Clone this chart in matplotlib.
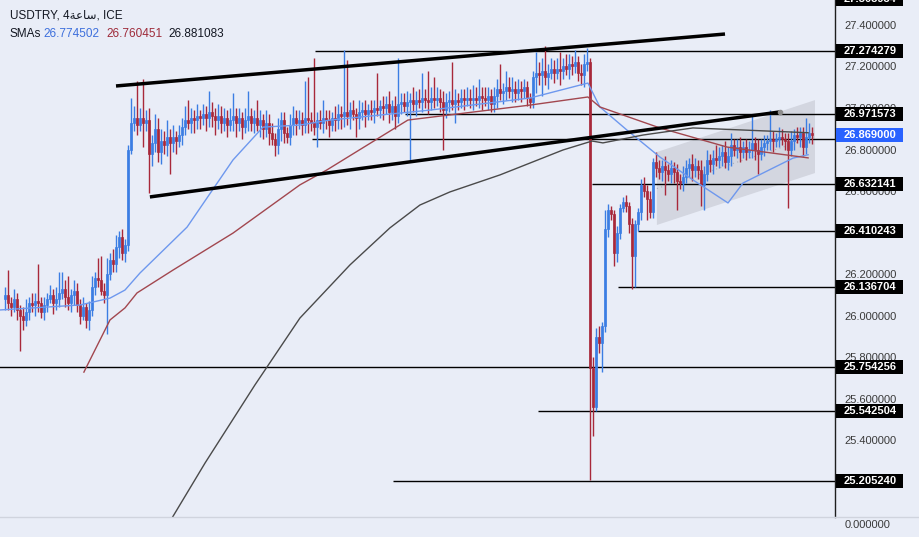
import matplotlib
matplotlib.use("Agg")
import matplotlib.pyplot as plt
from matplotlib.patches import Rectangle, Polygon
from matplotlib.lines import Line2D
from matplotlib.transforms import blended_transform_factory
import numpy as np

plt.rcParams['font.family'] = ['Liberation Sans', 'DejaVu Sans']

# ---- USDTRY 4h candles ----
first_open = 26.08
closes = [
    # range before the jump
    26.10, 26.06, 26.04, 26.08, 26.03, 26.00, 25.98, 26.02, 26.06, 26.05,
    26.07, 26.06, 26.02, 26.05, 26.08, 26.10, 26.06, 26.08, 26.11, 26.13,
    26.09, 26.06, 26.10, 26.12, 26.05, 26.00, 26.04, 25.98, 26.03, 26.14,
    26.18, 26.17, 26.12, 26.10, 26.20, 26.27, 26.25,
    26.33, 26.38, 26.30, 26.34, 26.80, 26.93,
    # upper range
    26.95, 26.92, 26.95, 26.93, 26.94, 26.78, 26.83, 26.90, 26.79, 26.84,
    26.82, 26.86, 26.83, 26.86, 26.84, 26.87, 26.91, 26.94, 26.93, 26.95,
    26.94, 26.96, 26.95, 26.97, 26.95, 26.98, 26.96, 26.94, 26.96, 26.93,
    26.95, 26.92, 26.94, 26.96, 26.93, 26.95, 26.91, 26.94, 26.96, 26.93,
    26.95, 26.92, 26.94, 26.90, 26.93, 26.88, 26.85, 26.82, 26.90, 26.94,
    26.88, 26.86, 26.92, 26.95, 26.93, 26.94, 26.92, 26.95, 26.94, 26.93,
    26.91, 26.94, 26.93, 26.95, 26.94, 26.92, 26.95, 26.94, 26.97, 26.96,
    26.98, 26.96, 26.99, 26.97, 26.95, 26.98, 26.99, 26.97, 26.99, 26.98,
    27.00, 26.99, 27.01, 27.00, 27.02, 26.98, 27.01, 26.96, 27.02, 27.03,
    27.01, 27.03, 27.04, 27.02, 27.04, 27.03, 27.05, 27.04, 27.03, 27.05,
    27.04, 27.05, 27.03, 26.99, 27.03, 27.04, 27.02, 27.04, 27.03, 27.05,
    27.04, 27.05, 27.04, 27.05, 27.04, 27.06, 27.05, 27.04, 27.06, 27.02,
    27.06, 27.09, 27.07, 27.08, 27.10, 27.08, 27.09, 27.07, 27.09, 27.08,
    27.10, 27.05, 27.03, 27.15, 27.17, 27.16, 27.18, 27.15, 27.17, 27.19,
    27.17, 27.19, 27.18, 27.20, 27.19, 27.21, 27.20, 27.22, 27.17, 27.16,
    27.21, 27.22,
    # crash and rebound
    25.75, 25.56, 25.90, 25.87, 25.95, 26.42, 26.51, 26.49, 26.30, 26.40,
    26.52, 26.55, 26.53, 26.44, 26.29, 26.44, 26.50, 26.63, 26.60, 26.56,
    26.50, 26.74, 26.71,
    # rising channel
    26.69, 26.72, 26.70, 26.68, 26.71, 26.69, 26.65, 26.64, 26.67, 26.71,
    26.73, 26.70, 26.72, 26.70, 26.63, 26.68, 26.75, 26.73, 26.76, 26.75,
    26.77, 26.79, 26.74, 26.77, 26.82, 26.80, 26.81, 26.79, 26.81, 26.79,
    26.80, 26.83, 26.80, 26.78, 26.81, 26.83, 26.84, 26.85, 26.84, 26.85,
    26.86, 26.85, 26.84, 26.80, 26.84, 26.87, 26.86, 26.88, 26.81, 26.86,
    26.88, 26.869,
]
upper_wick = [
    0.04, 0.12, 0.03, 0.05, 0.03, 0.02, 0.04, 0.06, 0.03, 0.05,
    0.04, 0.18, 0.03, 0.04, 0.03, 0.05, 0.03, 0.06, 0.10, 0.08,
    0.04, 0.10, 0.03, 0.05, 0.04, 0.03, 0.05, 0.02, 0.04, 0.05,
    0.03, 0.10, 0.12, 0.04, 0.08, 0.03, 0.05,
    0.06, 0.03, 0.04, 0.03, 0.02, 0.12,
    0.06, 0.18, 0.05, 0.19, 0.05, 0.06, 0.04, 0.07, 0.05, 0.06,
    0.05, 0.08, 0.04, 0.06, 0.03, 0.05, 0.04, 0.07, 0.10, 0.05,
    0.04, 0.06, 0.03, 0.05, 0.04, 0.10, 0.05, 0.04, 0.06, 0.05,
    0.05, 0.04, 0.06, 0.11, 0.04, 0.05, 0.03, 0.06, 0.12, 0.04,
    0.04, 0.09, 0.05, 0.03, 0.06, 0.04, 0.05, 0.03, 0.05, 0.04,
    0.04, 0.03, 0.05, 0.06, 0.04, 0.05, 0.04, 0.18, 0.20, 0.04,
    0.31, 0.04, 0.05, 0.09, 0.04, 0.05, 0.03, 0.06, 0.05, 0.04,
    0.30, 0.25, 0.04, 0.05, 0.03, 0.06, 0.04, 0.05, 0.03, 0.05,
    0.04, 0.17, 0.03, 0.05, 0.04, 0.06, 0.03, 0.05, 0.22, 0.04,
    0.04, 0.05, 0.03, 0.06, 0.04, 0.05, 0.12, 0.04, 0.14, 0.05,
    0.10, 0.05, 0.04, 0.05, 0.04, 0.04, 0.18, 0.05, 0.03, 0.04,
    0.04, 0.05, 0.04, 0.06, 0.05, 0.08, 0.04, 0.05, 0.04, 0.03,
    0.04, 0.05, 0.12, 0.04, 0.08, 0.05, 0.06, 0.04, 0.05, 0.04,
    0.04, 0.03, 0.02, 0.03, 0.10, 0.05, 0.06, 0.12, 0.04, 0.05,
    0.04, 0.05, 0.08, 0.04, 0.06, 0.05, 0.04, 0.06, 0.03, 0.04,
    0.05, 0.07,
    0.02, 0.05, 0.04, 0.05, 0.02, 0.09, 0.03, 0.02, 0.02, 0.03,
    0.02, 0.02, 0.03, 0.02, 0.03, 0.02, 0.02, 0.03, 0.04, 0.03,
    0.04, 0.02, 0.05,
    0.04, 0.03, 0.05, 0.03, 0.04, 0.03, 0.04, 0.03, 0.05, 0.04,
    0.03, 0.05, 0.04, 0.03, 0.05, 0.04, 0.05, 0.03, 0.04, 0.06,
    0.04, 0.03, 0.05, 0.04, 0.06, 0.03, 0.04, 0.05, 0.03, 0.04,
    0.04, 0.13, 0.03, 0.05, 0.04, 0.04, 0.03, 0.14, 0.04, 0.03,
    0.05, 0.04, 0.03, 0.04, 0.05, 0.03, 0.04, 0.03, 0.03, 0.09,
    0.05, 0.03,
]
lower_wick = [
    0.05, 0.03, 0.04, 0.02, 0.05, 0.17, 0.05, 0.03, 0.04, 0.03,
    0.05, 0.04, 0.03, 0.04, 0.03, 0.02, 0.05, 0.03, 0.04, 0.03,
    0.05, 0.03, 0.04, 0.05, 0.03, 0.04, 0.02, 0.04, 0.05, 0.03,
    0.04, 0.03, 0.02, 0.04, 0.19, 0.03, 0.04,
    0.04, 0.05, 0.03, 0.04, 0.03, 0.02,
    0.04, 0.05, 0.03, 0.12, 0.04, 0.19, 0.06, 0.04, 0.05, 0.06,
    0.04, 0.05, 0.15, 0.04, 0.06, 0.03, 0.05, 0.04, 0.03, 0.05,
    0.06, 0.04, 0.05, 0.03, 0.06, 0.04, 0.05, 0.07, 0.04, 0.05,
    0.04, 0.06, 0.03, 0.05, 0.07, 0.04, 0.06, 0.03, 0.05, 0.04,
    0.05, 0.03, 0.06, 0.05, 0.04, 0.06, 0.03, 0.05, 0.04, 0.06,
    0.05, 0.03, 0.04, 0.05, 0.06, 0.03, 0.05, 0.04, 0.06, 0.04,
    0.04, 0.10, 0.03, 0.05, 0.04, 0.06, 0.03, 0.05, 0.04, 0.06,
    0.05, 0.04, 0.06, 0.03, 0.09, 0.05, 0.04, 0.06, 0.03, 0.04,
    0.05, 0.03, 0.04, 0.06, 0.03, 0.05, 0.04, 0.06, 0.03, 0.05,
    0.03, 0.05, 0.29, 0.04, 0.06, 0.03, 0.05, 0.04, 0.06, 0.04,
    0.04, 0.03, 0.05, 0.19, 0.04, 0.05, 0.03, 0.09, 0.04, 0.03,
    0.05, 0.03, 0.04, 0.05, 0.03, 0.04, 0.06, 0.03, 0.05, 0.04,
    0.04, 0.06, 0.03, 0.05, 0.04, 0.03, 0.05, 0.04, 0.03, 0.05,
    0.03, 0.04, 0.03, 0.03, 0.08, 0.05, 0.10, 0.04, 0.06, 0.03,
    0.05, 0.03, 0.07, 0.04, 0.03, 0.05, 0.04, 0.03, 0.04, 0.05,
    0.06, 0.03,
    0.54, 0.14, 0.02, 0.05, 0.14, 0.03, 0.04, 0.03, 0.06, 0.04,
    0.03, 0.02, 0.03, 0.04, 0.16, 0.15, 0.03, 0.04, 0.03, 0.10,
    0.03, 0.03, 0.04,
    0.03, 0.04, 0.12, 0.03, 0.04, 0.05, 0.14, 0.03, 0.04, 0.03,
    0.04, 0.05, 0.03, 0.04, 0.10, 0.12, 0.03, 0.04, 0.05, 0.03,
    0.04, 0.05, 0.03, 0.04, 0.05, 0.03, 0.04, 0.05, 0.03, 0.04,
    0.03, 0.04, 0.05, 0.10, 0.03, 0.04, 0.03, 0.04, 0.05, 0.03,
    0.04, 0.03, 0.04, 0.28, 0.03, 0.04, 0.03, 0.05, 0.04, 0.03,
    0.03, 0.04,
]
assert len(closes) == len(upper_wick) == len(lower_wick)

# ---- moving averages (bar index, price) as drawn on the screenshot ----
sma_fast_idx = [-1.7, 25, 35, 40, 45, 60.7, 76, 86, 98.3, 108.3, 141.7, 175, 194.3,
                198.3, 207.3, 218.3, 229.3, 241, 246, 256, 262.7, 267.7]
sma_fast = [26.028, 26.052, 26.085, 26.124, 26.206, 26.427, 26.750, 26.908, 26.918,
            26.942, 26.990, 27.048, 27.120, 27.005, 26.894, 26.764, 26.654, 26.543,
            26.639, 26.711, 26.759, 26.775]
sma_mid_idx = [26.3, 35, 40, 44, 56, 76, 98.3, 107.3, 134.3, 145, 175, 194.3, 198.3,
               218.3, 240.7, 267.7]
sma_mid = [25.729, 25.980, 26.038, 26.110, 26.220, 26.398, 26.630, 26.702, 26.942,
           26.961, 27.014, 27.053, 27.005, 26.904, 26.812, 26.760]
sma_slow_idx = [53.3, 66.7, 83.3, 98.3, 115, 128.3, 138.3, 148.3, 165, 186, 195.7,
                199.3, 212.7, 229.3, 267.7]
sma_slow = [24.97, 25.292, 25.667, 25.989, 26.245, 26.423, 26.533, 26.596, 26.678,
            26.798, 26.841, 26.832, 26.870, 26.904, 26.881]
sma_values = ['26.774502', '26.760451', '26.881083']

# ---- drawings ----
level_prices = [27.274279, 26.971573, 26.851, 26.632141, 26.410243, 26.136704,
                25.754256, 25.542504, 25.205240]
level_starts = [103.3, 133.3, 102.3, 195.7, 211, 204.3, -2, 177.7, 129.3]
label_prices = [27.524, 27.274279, 26.971573, 26.632141, 26.410243, 26.136704,
                25.754256, 25.542504, 25.205240]
label_texts = ['27.508934', '27.274279', '26.971573', '26.632141', '26.410243',
               '26.136704', '25.754256', '25.542504', '25.205240']
last_price = 26.869
upper_trend_idx, upper_trend = [37, 240], [27.106, 27.356]
lower_trend_idx, lower_trend = [48.3, 258.3], [26.572, 26.981]
channel_idx = [217.3, 270, 270, 217.3]
channel_px = [26.788, 27.038, 26.687, 26.437]
# 26.4 sits fully under the 26.410243 label in the screenshot
price_ticks = [25.4, 25.6, 25.8, 26.0, 26.2, 26.6, 26.8, 27.0, 27.2, 27.4]

BG = '#E9EDF7'
UP = '#3B7DE3'
DOWN = '#A8283A'

W, H = 919, 537
fig = plt.figure(figsize=(W / 100, H / 100), dpi=100, facecolor=BG)
ax = fig.add_axes([0, 20 / H, 835 / W, 517 / H], facecolor=BG)

n = len(closes)
x = np.arange(n)
c = np.array(closes)
o = np.r_[first_open, c[:-1]]
hi = np.maximum(o, c) + np.array(upper_wick)
lo = np.minimum(o, c) - np.array(lower_wick)
col = np.where(c >= o, UP, DOWN)

# channel shading
ax.add_patch(Polygon(list(zip(channel_idx, channel_px)), closed=True,
                     facecolor='#D3D6E0', edgecolor='none', zorder=0.5))
ax.plot([channel_idx[0], channel_idx[1]],
        [(channel_px[0] + channel_px[3]) / 2, (channel_px[1] + channel_px[2]) / 2],
        color='#A9ADB8', lw=0.8, ls=(0, (1, 3)), zorder=0.6)

# horizontal levels
for p, s in zip(level_prices, level_starts):
    ax.hlines(p, s, 300, color='black', lw=1, zorder=1)

# candles
ax.vlines(x, lo, hi, colors=col, lw=1, zorder=3)
body = np.maximum(np.abs(c - o), 0.006)
ax.bar(x, body, bottom=np.minimum(o, c), width=0.75, color=col, edgecolor=col,
       lw=0.5, zorder=3.1)

# moving averages
ax.plot(sma_fast_idx, sma_fast, color='#6E98EE', lw=1, zorder=3.5)
ax.plot(sma_mid_idx, sma_mid, color='#A2474F', lw=1, zorder=3.5)
ax.plot(sma_slow_idx, sma_slow, color='#4A4A4A', lw=1, zorder=3.5)

# trend lines
ax.plot(upper_trend_idx, upper_trend, color='black', lw=2.5, solid_capstyle='butt', zorder=4)
ax.plot(lower_trend_idx, lower_trend, color='black', lw=2.5, solid_capstyle='butt', zorder=4)
ax.plot(lower_trend_idx[1], lower_trend[1], 'o', ms=3, color='#8C8C8C', zorder=4.1)

ax.set_xlim(-5 / 3, 830 / 3)
ax.set_ylim(27.274279 - 466 / 207.8, 27.274279 + 51 / 207.8)

# price axis on the right
for side in ['top', 'left', 'bottom']:
    ax.spines[side].set_visible(False)
ax.spines['right'].set_color('#1E1E1E')
ax.spines['right'].set_linewidth(1)
ax.set_xticks([])
ax.yaxis.tick_right()
ax.set_yticks(price_ticks)
ax.set_yticklabels([f'{t:.6f}' for t in price_ticks])
ax.tick_params(axis='y', length=0, pad=7, labelsize=8, labelcolor='#3A3A3A')

# level labels on the axis
tr = blended_transform_factory(ax.transAxes, ax.transData)
box_x, box_w, box_h = 836 / 835, 67 / 835, 14 / 207.8
for p, t in zip(label_prices, label_texts):
    ax.add_patch(Rectangle((box_x, p - box_h / 2), box_w, box_h, transform=tr,
                           facecolor='black', edgecolor='none', clip_on=False, zorder=6))
    ax.text(844 / 835, p, t, transform=tr, color='white', fontsize=8, fontweight='bold',
            va='center', ha='left', clip_on=False, zorder=7)
ax.add_patch(Rectangle((box_x, last_price - box_h / 2), box_w, box_h, transform=tr,
                       facecolor='#2962FF', edgecolor='none', clip_on=False, zorder=6))
ax.text(844 / 835, last_price, f'{last_price:.6f}', transform=tr, color='white', fontsize=8,
        fontweight='bold', va='center', ha='left', clip_on=False, zorder=7)

# lower pane
fig.add_artist(Line2D([0, 1], [20 / H, 20 / H], color='#D0D4DE', lw=1))
fig.text(845 / W, 1 - 525 / H, '0.000000', fontsize=8, color='#3A3A3A', va='center')

# legend
fig.text(10 / W, 1 - 16 / H, 'USDTRY, 4\ufe94\ufecb\ufe8e\ufeb3, ICE', fontsize=8.5,
         color='#131722', va='center')
fig.text(10 / W, 1 - 34 / H, 'SMAs', fontsize=8.5, color='#131722', va='center')
for xp, v, cl in zip([43, 106, 168], sma_values, ['#3D6FDC', '#9E2B3A', '#131722']):
    fig.text(xp / W, 1 - 34 / H, v, fontsize=8.5, color=cl, va='center')

fig.savefig('out.png', dpi=100, facecolor=BG)
